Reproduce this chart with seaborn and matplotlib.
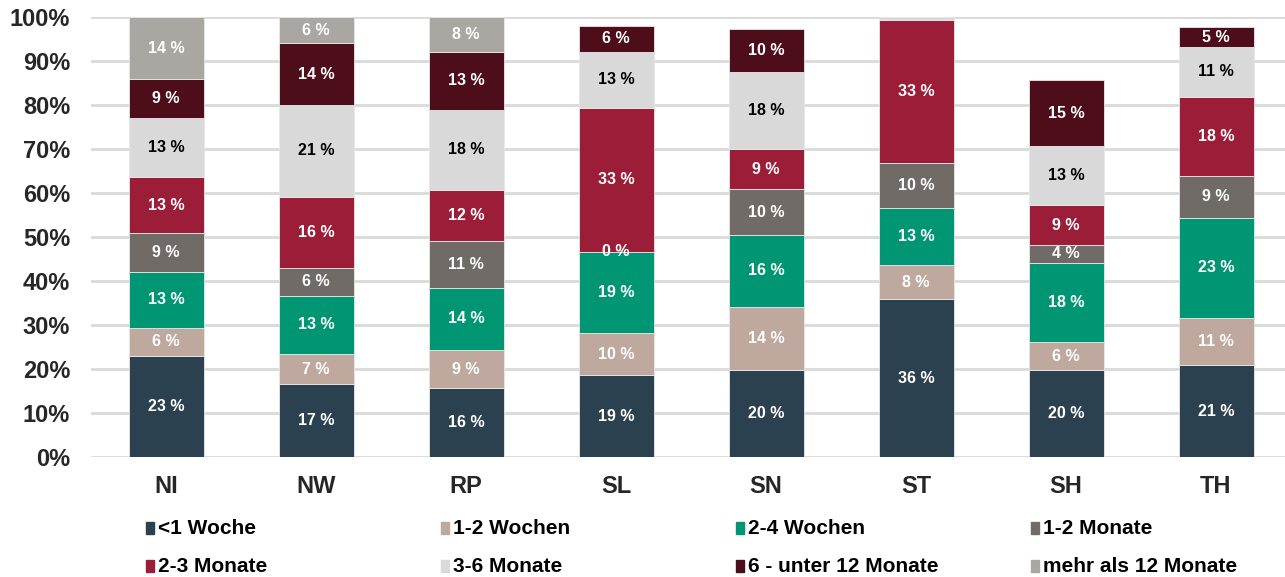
import numpy as np
import pandas as pd
import matplotlib
matplotlib.use("Agg")
import matplotlib.pyplot as plt
import seaborn as sns
from matplotlib.patches import Rectangle

regions = ["NI", "NW", "RP", "SL", "SN", "ST", "SH", "TH"]
series = ["<1 Woche", "1-2 Wochen", "2-4 Wochen", "1-2 Monate",
          "2-3 Monate", "3-6 Monate", "6 - unter 12 Monate", "mehr als 12 Monate"]
lt_1w = [23.0, 16.6, 15.6, 18.6, 19.8, 35.9, 19.8, 20.9]
w_1_2 = [6.4, 6.8, 8.8, 9.5, 14.3, 7.7, 6.3, 10.7]
w_2_4 = [12.7, 13.3, 14.1, 18.6, 16.4, 12.9, 18.1, 22.8]
m_1_2 = [8.7, 6.2, 10.6, 0.0, 10.3, 10.3, 3.9, 9.4]
m_2_3 = [12.9, 16.3, 11.6, 32.6, 9.1, 32.6, 9.2, 18.1]
m_3_6 = [13.4, 20.8, 18.2, 12.8, 17.7, 0.6, 13.3, 11.2]
m_6_12 = [8.8, 14.0, 13.2, 5.8, 9.7, 0.0, 15.1, 4.6]
gt_12m = [14.1, 6.0, 7.9, 0.0, 0.0, 0.0, 0.0, 0.0]
values = [lt_1w, w_1_2, w_2_4, m_1_2, m_2_3, m_3_6, m_6_12, gt_12m]

colors = ["#2b4150", "#bfa89d", "#009673", "#716b67",
          "#9b1d37", "#d9d9d9", "#4d0d1b", "#aaa6a1"]
text_colors = ["white", "white", "white", "white", "white", "black", "white", "white"]

hidden_labels = {("ST", "3-6 Monate")}
zero_labels = {("SL", "1-2 Monate")}

sns.set_theme(style="white")
plt.rcParams["font.family"] = ["Liberation Sans", "DejaVu Sans"]
plt.rcParams["font.weight"] = "bold"

W, H = 1285, 577
fig = plt.figure(figsize=(W / 100, H / 100), dpi=100)
ax = fig.add_axes([91 / W, 1 - 457 / H, (W - 91) / W, (457 - 17) / H])

for y in range(0, 101, 10):
    ax.axhline(y, color="#d9d9d9", lw=2, zorder=0)

bottoms = np.zeros(len(regions))
for s, vals, col, tcol in zip(series, values, colors, text_colors):
    vals = np.array(vals, dtype=float)
    n_before = len(ax.patches)
    sns.barplot(x=regions, y=vals, bottom=bottoms, color=col, saturation=1,
                width=0.5, errorbar=None, order=regions, ax=ax,
                edgecolor="#e8e8e8", linewidth=0.6, zorder=2)
    for p in ax.patches[n_before:]:
        if p.get_height() <= 0:
            p.set_visible(False)
    for i, (r, v) in enumerate(zip(regions, vals)):
        if (r, s) in hidden_labels:
            continue
        if v <= 0 and (r, s) not in zero_labels:
            continue
        ax.text(i, bottoms[i] + v / 2, f"{v:.0f} %", ha="center", va="center",
                color=tcol, fontsize=11.5, fontweight="bold", zorder=3)
    bottoms = bottoms + vals

ax.set_ylim(0, 100)
ax.set_xlim(-0.5, 7.46)
ax.set_yticks(range(0, 101, 10))
ax.set_yticklabels([f"{v}%" for v in range(0, 101, 10)], fontsize=17, fontweight="bold")
ax.set_xticks(range(len(regions)))
ax.set_xticklabels(regions, fontsize=17, fontweight="bold")
ax.tick_params(axis="y", length=0, pad=15)
ax.tick_params(axis="x", length=0, pad=13)
ax.set_xlabel("")
ax.set_ylabel("")
for sp in ax.spines.values():
    sp.set_visible(False)

# legend
col_x = [146, 441, 736, 1031]
row_y = [528, 566]
for k, (s, col) in enumerate(zip(series, colors)):
    r, c = divmod(k, 4)
    x0, yc = col_x[c], row_y[r]
    fig.patches.append(Rectangle((x0 / W, 1 - (yc + 6) / H), 8 / W, 12 / H,
                                 transform=fig.transFigure, color=col))
    fig.text((x0 + 12) / W, 1 - yc / H, s, ha="left", va="center",
             fontsize=15, fontweight="bold", color="black")

fig.savefig("out.png", dpi=100)
